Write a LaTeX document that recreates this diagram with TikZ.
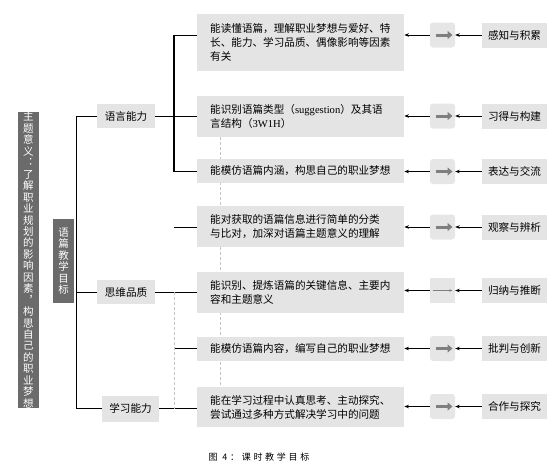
\documentclass[tikz,border=0pt]{standalone}
\usepackage{fontspec}
\newfontfamily\cjk{Noto Sans CJK SC}
\newfontfamily\lat{Liberation Serif}
\usetikzlibrary{arrows.meta,backgrounds}
\definecolor{boxgray}{HTML}{E4E4E4}
\definecolor{bargray}{HTML}{6B6B6B}
\definecolor{tilegray}{HTML}{E6E6E6}
\definecolor{arrowgray}{HTML}{7F7F7F}
\definecolor{dashgray}{HTML}{C4C4C4}

\begin{document}
\begin{tikzpicture}[x=1pt, y=-1pt,
  barbox/.style={fill=bargray, text=white, inner sep=0pt, minimum width=21pt, align=center,
                 font=\cjk\fontsize{10.5}{11.45}\selectfont},
  catbox/.style={fill=boxgray, inner sep=0pt, minimum width=58pt, minimum height=24pt,
                 font=\cjk\fontsize{10.6}{13}\selectfont},
  goalbox/.style={fill=boxgray, anchor=west, inner xsep=13pt, inner ysep=0pt, text width=181pt,
                  align=left, font=\cjk\fontsize{10.6}{14}\selectfont},
  skillbox/.style={fill=boxgray, inner sep=0pt, minimum width=65pt, minimum height=25pt,
                   font=\cjk\fontsize{10.6}{13}\selectfont},
  tile/.style={fill=tilegray, rounded corners=3pt, minimum size=25pt, inner sep=0pt},
  link/.style={line width=0.7pt},
  tip/.style={line width=0.7pt, -{Stealth[length=4.5pt, width=3.5pt]}},
  fatarrow/.style={arrowgray, line width=3pt, -{Triangle[length=5pt, width=8pt]}},
  guide/.style={dashgray, line width=0.6pt, dash pattern=on 3pt off 2pt}
]
  \useasboundingbox (0,0) rectangle (557,469);

  % left bars
  \node[barbox, minimum height=296pt] (theme) at (28.5,260)
    {主\\题\\意\\义\\︓\\了\\解\\职\\业\\规\\划\\的\\影\\响\\因\\素\\︐\\构\\思\\自\\己\\的\\职\\业\\梦\\想};
  \node[barbox, minimum height=84pt] (aim) at (63.5,261) {语\\篇\\教\\学\\目\\标};

  % categories
  \node[catbox] (lang)  at (126,116) {语言能力};
  \node[catbox] (think) at (126,292) {思维品质};
  \node[catbox, minimum width=57pt, minimum height=26pt] (study) at (130.5,408.5) {学习能力};

  % goals
  \node[goalbox, minimum height=57pt] (g1) at (197,42.5)
    {能读懂语篇，理解职业梦想与爱好、特\\长、能力、学习品质、偶像影响等因素\\有关};
  \node[goalbox, minimum height=41pt] (g2) at (197,116.5)
    {能识别语篇类型（{\lat suggestion}）及其语\\言结构（{\lat 3W1H}）};
  \node[goalbox, minimum height=24pt] (g3) at (197,171) {能模仿语篇内涵，构思自己的职业梦想};
  \node[goalbox, minimum height=41pt] (g4) at (197,226.5)
    {能对获取的语篇信息进行简单的分类\\与比对，加深对语篇主题意义的理解};
  \node[goalbox, minimum height=41pt] (g5) at (197,292.5)
    {能识别、提炼语篇的关键信息、主要内\\容和主题意义};
  \node[goalbox, minimum height=24pt] (g6) at (197,349) {能模仿语篇内容，编写自己的职业梦想};
  \node[goalbox, minimum height=40pt] (g7) at (197,407)
    {能在学习过程中认真思考、主动探究、\\尝试通过多种方式解决学习中的问题};

  % tiles and skills
  \node[tile] (t1) at (442.5,35)    {};
  \node[tile] (t2) at (442.5,116)   {};
  \node[tile] (t3) at (442.5,171.5) {};
  \node[tile] (t4) at (442.5,227)   {};
  \node[tile, rounded corners=0pt] (t5) at (442.5,290.5) {};
  \node[tile] (t6) at (442.5,348.5) {};
  \node[tile] (t7) at (442.5,406.5) {};

  \node[skillbox] (s1) at (514.5,35)    {感知与积累};
  \node[skillbox] (s2) at (514.5,116)   {习得与构建};
  \node[skillbox] (s3) at (514.5,171.5) {表达与交流};
  \node[skillbox] (s4) at (514.5,227)   {观察与辨析};
  \node[skillbox] (s5) at (514.5,290.5) {归纳与推断};
  \node[skillbox] (s6) at (514.5,348.5) {批判与创新};
  \node[skillbox] (s7) at (514.5,406.5) {合作与探究};

  \foreach \i in {1,...,7} {
    \draw[tip] (t\i.west) -- (g\i.east |- t\i.west);
    \draw[tip] (s\i.west) -- (t\i.east);
  }
  \foreach \i in {1,2,3,4,6,7}
    \draw[fatarrow] ([xshift=-7pt]t\i.center) -- ([xshift=10pt]t\i.center);
  \draw[arrowgray, line width=0.5pt, -{Stealth[length=3pt, width=2.5pt]}]
    ([xshift=-10pt]t5.center) -- ([xshift=10pt]t5.center);

  % tree
  \coordinate (trunk) at (76,0);
  \coordinate (fork)  at (174,0);
  \coordinate (mid)   at (220,0);
  \begin{scope}[on background layer]
    \draw[guide] (mid |- g2.south) -- (mid |- g7.north);
  \end{scope}
  \draw[link] (lang.west) -- (trunk |- lang.west) -- (trunk |- study.west) -- (study.west);
  \draw[link] (think.west) -- (trunk |- think.west);
  \draw[link] (lang.east) -- (fork |- lang.east);
  \draw[line width=1.2pt] (fork |- t1) -- (fork |- t3);
  \draw[link] (fork |- t1) -- (g1.west |- t1);
  \draw[link] (fork |- t2) -- (g2.west |- t2);
  \draw[link] (fork |- t3) -- (g3.west |- t3);
  \draw[link] (fork |- t4) -- (g4.west |- t4);
  \draw[link] (think.east) -- (g5.west |- think.east);
  \draw[link] (fork |- t6) -- (g6.west |- t6);
  \draw[link] (study.east) -- (g7.west |- study.east);
  \draw[guide] (fork |- think.east) -- (fork |- study.east);

  \node[font=\fontsize{9}{11}\cjk\addfontfeature{LetterSpace=30}] (caption) at (259,457) {图 4：课时教学目标};
\end{tikzpicture}
\end{document}
